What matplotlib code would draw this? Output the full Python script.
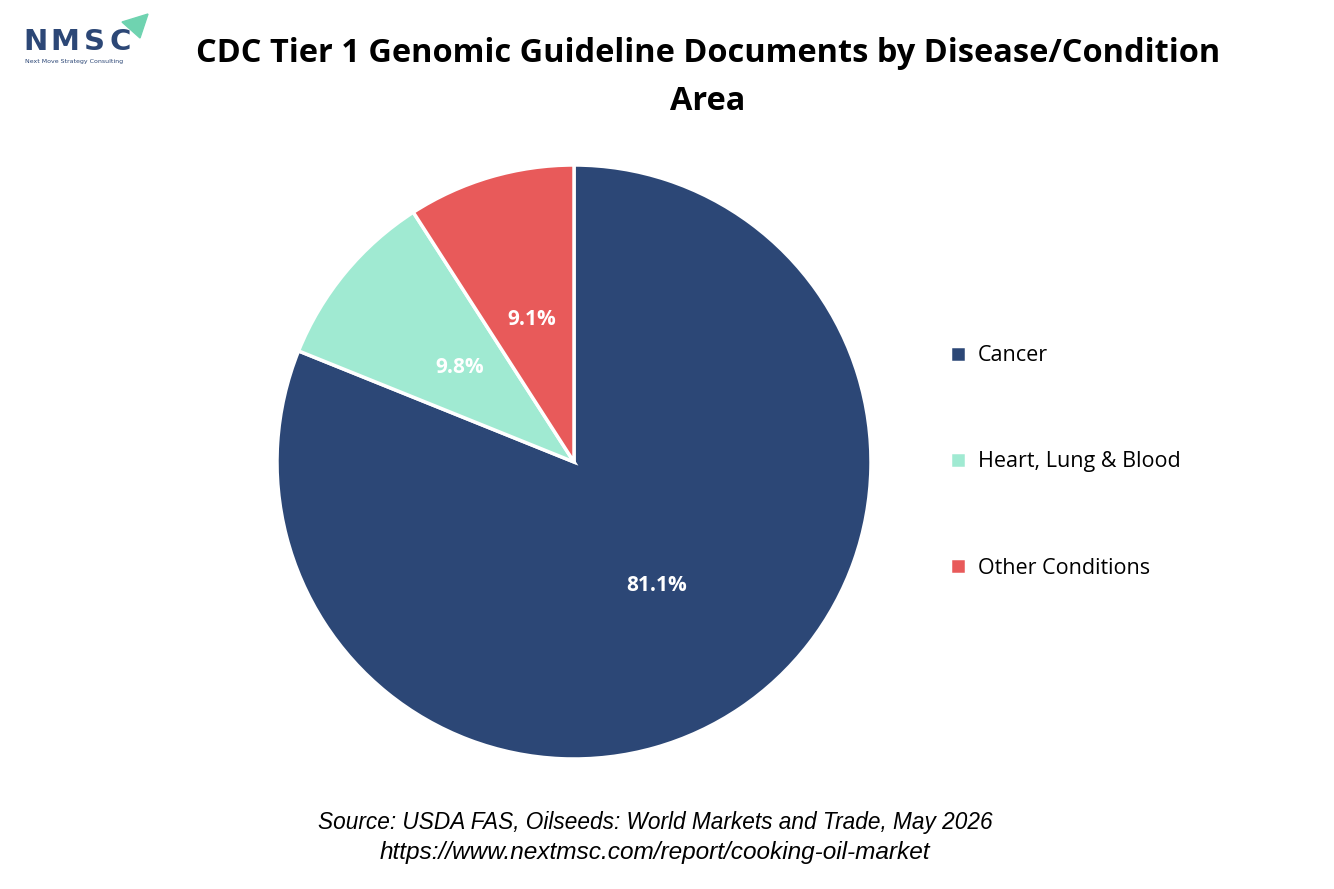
import matplotlib.pyplot as plt
from matplotlib.patches import Polygon

categories = ['Cancer', 'Heart, Lung & Blood', 'Other Conditions']
shares = [81.1, 9.8, 9.1]
colors = ['#2c4776', '#a0ead2', '#e85a5a']

fig = plt.figure(figsize=(13.34, 8.89), dpi=100)
fig.patch.set_facecolor('white')

# pie area: center (574, 462) px, radius ~297 px
ax = fig.add_axes([(574 - 300) / 1334, (889 - 462 - 300) / 889, 600 / 1334, 600 / 889])
wedges, texts, autotexts = ax.pie(
    shares, colors=colors, startangle=90, counterclock=False,
    autopct='%.1f%%', pctdistance=0.5, radius=297 / 300,
    wedgeprops=dict(edgecolor='white', linewidth=2.5),
    textprops=dict(color='white', fontsize=15, fontweight='bold', family='Open Sans'))
ax.set_aspect('equal')
ax.set_xlim(-1, 1)
ax.set_ylim(-1, 1)

fig.legend(wedges, categories, loc='center left', bbox_to_anchor=(941 / 1334, 1 - 462 / 889),
           frameon=False, handlelength=0.75, handleheight=0.75, borderaxespad=0,
           handletextpad=0.55, labelspacing=3.95, prop=dict(family='Open Sans', size=15.5))

fig.text(708 / 1334, 1 - 53 / 889, 'CDC Tier 1 Genomic Guideline Documents by Disease/Condition',
         ha='center', va='center', fontsize=23.4, fontweight='bold', family='Open Sans')
fig.text(708 / 1334, 1 - 101 / 889, 'Area',
         ha='center', va='center', fontsize=23.4, fontweight='bold', family='Open Sans')

fig.text(655 / 1334, 1 - 822 / 889, 'Source: USDA FAS, Oilseeds: World Markets and Trade, May 2026',
         ha='center', va='center', fontsize=16.3, style='italic', family='Liberation Sans')
fig.text(655 / 1334, 1 - 852 / 889, 'https://www.nextmsc.com/report/cooking-oil-market',
         ha='center', va='center', fontsize=17.6, style='italic', family='Liberation Sans')

# logo
for x, ch in zip([36, 65, 94, 120], 'NMSC'):
    fig.text(x / 1334, 1 - 42 / 889, ch, ha='center', va='center', fontsize=21,
             fontweight='bold', color='#2c4776', family='DejaVu Sans')
fig.text(25 / 1334, 1 - 62 / 889, 'Next Move Strategy Consulting', ha='left', va='center',
         fontsize=4.5, color='#2c4776', family='DejaVu Sans')
tri = Polygon([(122 / 1334, 1 - 22 / 889), (148 / 1334, 1 - 14 / 889), (140 / 1334, 1 - 38 / 889)],
              closed=True, transform=fig.transFigure, color='#6fd3b0')
fig.patches.append(tri)

fig.savefig('out.png', dpi=100)
